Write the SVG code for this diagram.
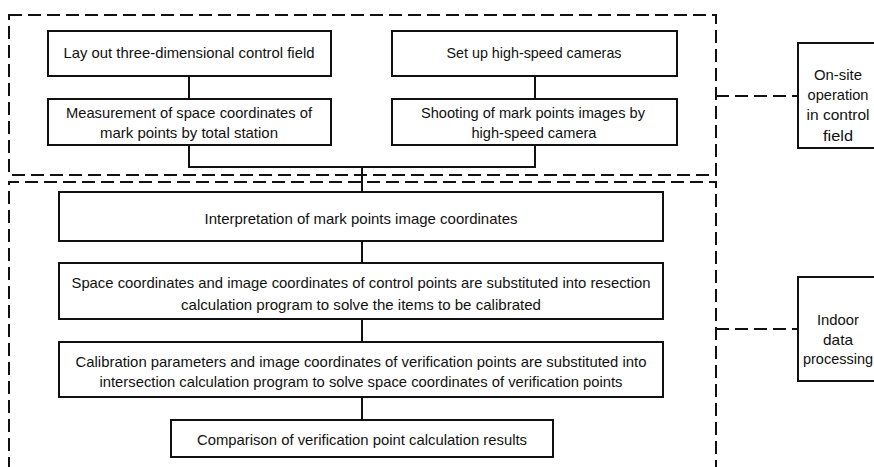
<svg xmlns="http://www.w3.org/2000/svg" width="874" height="467" viewBox="0 0 874 467">
  <style>
    .node rect { fill: #ffffff; stroke: #111111; stroke-width: 2; }
    .node text { font-family: "Liberation Sans", Arial, sans-serif; font-size: 15px; fill: #111111; text-anchor: middle; }
    .frame { fill: none; stroke: #111111; stroke-width: 2; stroke-dasharray: 13 6; }
    .link { fill: none; stroke: #111111; stroke-width: 2; }
    .dlink { fill: none; stroke: #111111; stroke-width: 2; stroke-dasharray: 13 6; }
  </style>

  <!-- dashed phase frames -->
  <g id="frames">
    <rect class="frame" x="9" y="15" width="707" height="160"/>
    <path class="frame" d="M9,470 V182 H716 V470"/>
  </g>

  <!-- connectors -->
  <g id="connectors">
    <line class="link" x1="189" y1="76" x2="189" y2="99"/>
    <line class="link" x1="535" y1="76" x2="535" y2="99"/>
    <path class="link" d="M189,145 V167 H535 V145"/>
    <line class="link" x1="362" y1="167" x2="362" y2="192"/>
    <line class="link" x1="362" y1="241" x2="362" y2="263"/>
    <line class="link" x1="362" y1="319" x2="362" y2="342"/>
    <line class="link" x1="362" y1="397" x2="362" y2="420"/>
    <line class="dlink" x1="716" y1="96" x2="798" y2="96"/>
    <line class="dlink" x1="716" y1="329" x2="798" y2="329"/>
  </g>

  <g id="layout-field" class="node">
    <rect x="48" y="31" width="283" height="45"/>
    <text x="189" y="58" textLength="251" lengthAdjust="spacingAndGlyphs">Lay out three-dimensional control field</text>
  </g>

  <g id="setup-cameras" class="node">
    <rect x="392" y="31" width="285" height="45"/>
    <text x="534" y="58" textLength="175" lengthAdjust="spacingAndGlyphs">Set up high-speed cameras</text>
  </g>

  <g id="total-station" class="node">
    <rect x="48" y="99" width="283" height="46"/>
    <text x="189" y="118" textLength="246" lengthAdjust="spacingAndGlyphs">Measurement of space coordinates of</text>
    <text x="189" y="138" textLength="178" lengthAdjust="spacingAndGlyphs">mark points by total station</text>
  </g>

  <g id="shooting" class="node">
    <rect x="392" y="99" width="285" height="46"/>
    <text x="533" y="118" textLength="224" lengthAdjust="spacingAndGlyphs">Shooting of mark points images by</text>
    <text x="534" y="138" textLength="125" lengthAdjust="spacingAndGlyphs">high-speed camera</text>
  </g>

  <g id="interpretation" class="node">
    <rect x="59" y="192" width="604" height="49"/>
    <text x="361" y="224" textLength="313" lengthAdjust="spacingAndGlyphs">Interpretation of mark points image coordinates</text>
  </g>

  <g id="resection" class="node">
    <rect x="59" y="263" width="604" height="56"/>
    <text x="361" y="288" textLength="579" lengthAdjust="spacingAndGlyphs">Space coordinates and image coordinates of control points are substituted into resection</text>
    <text x="361" y="310" textLength="360" lengthAdjust="spacingAndGlyphs">calculation program to solve the items to be calibrated</text>
  </g>

  <g id="intersection" class="node">
    <rect x="59" y="342" width="604" height="55"/>
    <text x="361" y="367" textLength="571" lengthAdjust="spacingAndGlyphs">Calibration parameters and image coordinates of verification points are substituted into</text>
    <text x="361" y="387" textLength="523" lengthAdjust="spacingAndGlyphs">intersection calculation program to solve space coordinates of verification points</text>
  </g>

  <g id="comparison" class="node">
    <rect x="171" y="420" width="382" height="37"/>
    <text x="362" y="445" textLength="330" lengthAdjust="spacingAndGlyphs">Comparison of verification point calculation results</text>
  </g>

  <g id="onsite-label" class="node">
    <rect x="798" y="43" width="90" height="105"/>
    <text x="838" y="80" textLength="48" lengthAdjust="spacingAndGlyphs">On-site</text>
    <text x="838" y="100" textLength="61" lengthAdjust="spacingAndGlyphs">operation</text>
    <text x="838" y="120" textLength="63" lengthAdjust="spacingAndGlyphs">in control</text>
    <text x="838" y="141" textLength="30" lengthAdjust="spacingAndGlyphs">field</text>
  </g>

  <g id="indoor-label" class="node">
    <rect x="798" y="277" width="90" height="104"/>
    <text x="838" y="325" textLength="42" lengthAdjust="spacingAndGlyphs">Indoor</text>
    <text x="838" y="345" textLength="30" lengthAdjust="spacingAndGlyphs">data</text>
    <text x="838" y="364" textLength="70" lengthAdjust="spacingAndGlyphs">processing</text>
  </g>
</svg>
